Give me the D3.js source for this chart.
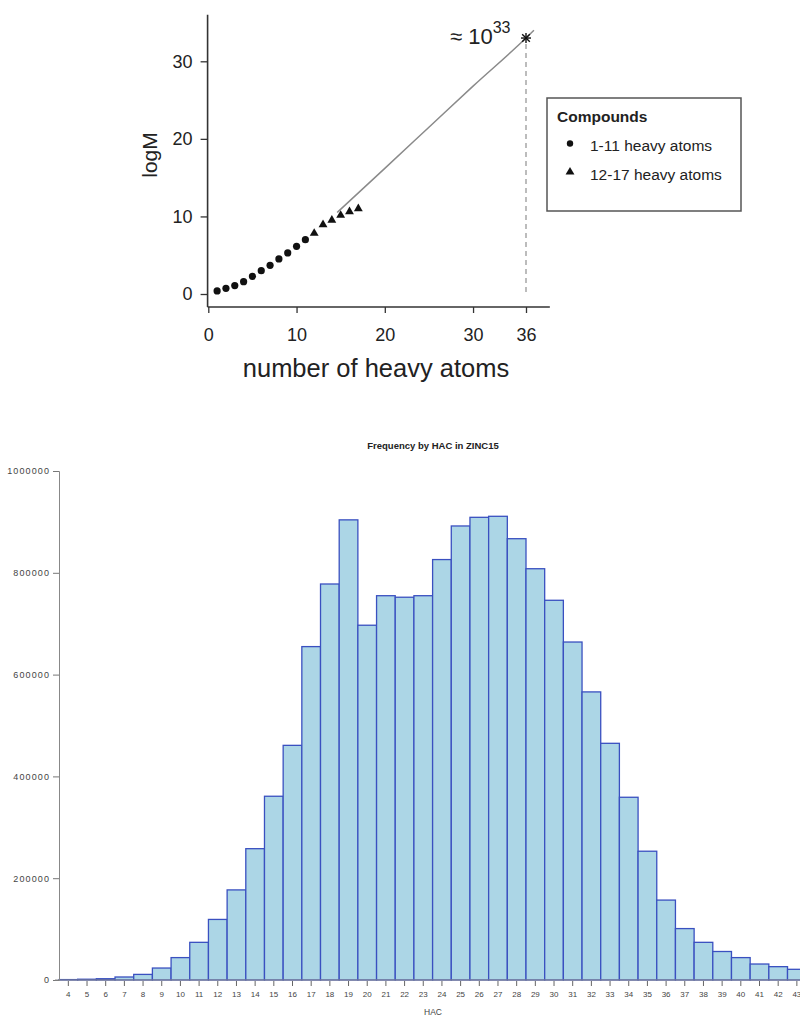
<!DOCTYPE html>
<html><head><meta charset="utf-8">
<script src="https://cdn.jsdelivr.net/npm/d3@7"></script>
<style>
html,body{margin:0;padding:0;background:#fff;}
svg{display:block;font-family:"Liberation Sans",Arial,sans-serif;}
</style></head>
<body>
<svg id="c" width="800" height="1023"></svg>
<script>
// ---------- Top chart data ----------
const atomsCircle = [1,2,3,4,5,6,7,8,9,10,11];
const logMCircle  = [0.39,0.73,1.08,1.59,2.28,3.01,3.70,4.52,5.29,6.15,7.01];
const atomsTri    = [12,13,14,15,16,17];
const logMTri     = [7.83,8.95,9.51,10.15,10.62,11.01];
const fitX        = [14.6,20,25,30,36,36.9];
const fitY        = [10.5,16.2,21.5,26.8,33.0,34.0];
const starPoint   = [36,33];
const topXTicks   = [0,10,20,30,36];
const topYTicks   = [0,10,20,30];
const legendLabels = ["1-11 heavy atoms","12-17 heavy atoms"];

// ---------- Bottom chart data ----------
const hac = [4,5,6,7,8,9,10,11,12,13,14,15,16,17,18,19,20,21,22,23,24,25,26,27,28,29,30,31,32,33,34,35,36,37,38,39,40,41,42,43];
const freq = [800,1500,2500,5900,11000,23500,44000,74000,119000,177000,258000,361000,461000,655000,778000,904000,697000,755000,752000,755000,826000,892000,909000,911000,867000,808000,746000,664000,566000,465000,359000,253000,157000,101000,74000,56000,44000,31400,26200,21000];
const bottomYTicks = [0,200000,400000,600000,800000,1000000];

const svg = d3.select("#c");

// ================= TOP CHART =================
const xT = d3.scaleLinear().domain([0,36]).range([208.3,526]);
const yT = d3.scaleLinear().domain([0,30]).range([294,61.3]);
const gTop = svg.append("g");
const axCol = "#333";

gTop.append("line").attr("x1",xT(-0.08)).attr("x2",xT(38.7)).attr("y1",307).attr("y2",307)
  .attr("stroke",axCol).attr("stroke-width",1.6);
gTop.append("line").attr("x1",xT(-0.08)).attr("x2",xT(-0.08)).attr("y1",yT(36)).attr("y2",307)
  .attr("stroke",axCol).attr("stroke-width",1.6);

const xAxT = gTop.append("g").attr("transform","translate(0,307)")
  .call(d3.axisBottom(xT).tickValues(topXTicks).tickSize(6).tickPadding(15));
xAxT.select(".domain").remove();
xAxT.selectAll("line").attr("stroke",axCol).attr("stroke-width",1.3);
xAxT.selectAll("text").attr("font-size",18).attr("fill","#222").attr("font-family","Liberation Sans, Arial, sans-serif");

const yAxT = gTop.append("g").attr("transform",`translate(${xT(-0.08)},0)`)
  .call(d3.axisLeft(yT).tickValues(topYTicks).tickSize(7).tickPadding(8));
yAxT.select(".domain").remove();
yAxT.selectAll("line").attr("stroke",axCol).attr("stroke-width",1.3);
yAxT.selectAll("text").attr("font-size",18).attr("fill","#222").attr("font-family","Liberation Sans, Arial, sans-serif");

gTop.append("text").attr("x",376).attr("y",377).attr("text-anchor","middle")
  .attr("font-size",25.5).attr("fill","#222").text("number of heavy atoms");
gTop.append("text").attr("transform","translate(157,155) rotate(-90)").attr("text-anchor","middle")
  .attr("font-size",21).attr("fill","#222").text("logM");

const lineGen = d3.line().x(d=>xT(d[0])).y(d=>yT(d[1])).curve(d3.curveMonotoneX);
gTop.append("path").datum(fitX.map((x,i)=>[x,fitY[i]])).attr("d",lineGen)
  .attr("fill","none").attr("stroke","#8a8a8a").attr("stroke-width",1.5);

gTop.append("line").attr("x1",xT(starPoint[0])).attr("x2",xT(starPoint[0]))
  .attr("y1",yT(starPoint[1])+6).attr("y2",yT(0))
  .attr("stroke","#999").attr("stroke-width",1.3).attr("stroke-dasharray","5,4");

gTop.selectAll("circle.pt").data(atomsCircle).enter().append("circle")
  .attr("cx",d=>xT(d)).attr("cy",(d,i)=>yT(logMCircle[i])).attr("r",3.6).attr("fill","#111");
const tri = d3.symbol().type(d3.symbolTriangle).size(34);
gTop.selectAll("path.tri").data(atomsTri).enter().append("path")
  .attr("d",tri).attr("transform",(d,i)=>`translate(${xT(d)},${yT(logMTri[i])})`).attr("fill","#111");

const sx = xT(starPoint[0]), sy = yT(starPoint[1]);
const sg = gTop.append("g").attr("transform",`translate(${sx},${sy})`).attr("stroke","#111").attr("stroke-width",1.4);
sg.append("line").attr("x1",-5).attr("x2",5).attr("y1",0).attr("y2",0);
sg.append("line").attr("x1",0).attr("x2",0).attr("y1",-5).attr("y2",5);
sg.append("line").attr("x1",-3.8).attr("x2",3.8).attr("y1",-3.8).attr("y2",3.8);
sg.append("line").attr("x1",-3.8).attr("x2",3.8).attr("y1",3.8).attr("y2",-3.8);

const ann = gTop.append("text").attr("x",450).attr("y",43.5).attr("fill","#222").attr("font-size",22);
ann.append("tspan").text("≈ 10");
ann.append("tspan").attr("font-size",16).attr("dy",-10.5).text("33");

const lg = gTop.append("g");
lg.append("rect").attr("x",547).attr("y",98).attr("width",194).attr("height",113)
  .attr("fill","#fff").attr("stroke","#555").attr("stroke-width",1.5);
lg.append("text").attr("x",557).attr("y",122).attr("font-size",15.5).attr("font-weight","bold")
  .attr("fill","#222").text("Compounds");
lg.append("circle").attr("cx",570).attr("cy",143.5).attr("r",3.2).attr("fill","#111");
lg.append("path").attr("d",tri).attr("transform","translate(570,172)").attr("fill","#111");
lg.selectAll("text.lab").data(legendLabels).enter().append("text")
  .attr("x",590).attr("y",(d,i)=>151+i*28.5).attr("font-size",15.5).attr("fill","#222").text(d=>d);

// ================= BOTTOM CHART =================
const xB = d3.scaleBand().domain(hac).range([59,59+40*18.68]).paddingInner(0).paddingOuter(0);
const yB = d3.scaleLinear().domain([0,1000000]).range([980,471]);
const bot = svg.append("g");

bot.append("text").attr("x",433).attr("y",449).attr("text-anchor","middle")
  .attr("font-size",9.5).attr("font-weight","bold").attr("fill","#222").text("Frequency by HAC in ZINC15");

bot.selectAll("rect.bar").data(hac).enter().append("rect")
  .attr("x",d=>xB(d)).attr("width",xB.bandwidth())
  .attr("y",(d,i)=>yB(freq[i])).attr("height",(d,i)=>980-yB(freq[i]))
  .attr("fill","#acd6e6").attr("stroke","#3a50c0").attr("stroke-width",1.3);

const yAxB = bot.append("g").attr("transform","translate(59,0)")
  .call(d3.axisLeft(yB).tickValues(bottomYTicks).tickFormat(d3.format("d")).tickSize(6).tickPadding(3));
yAxB.select(".domain").attr("stroke","#888");
yAxB.selectAll("line").attr("stroke","#777");
yAxB.selectAll("text").attr("font-size",9).attr("fill","#444").attr("letter-spacing",1.1)
  .attr("font-family","Liberation Sans, Arial, sans-serif");

bot.append("line").attr("x1",55).attr("x2",800).attr("y1",980).attr("y2",980).attr("stroke","#888").attr("stroke-width",1);
const xAxB = bot.append("g").attr("transform","translate(0,981)")
  .call(d3.axisBottom(xB).tickSize(5).tickPadding(5));
xAxB.select(".domain").remove();
xAxB.selectAll("line").attr("stroke","#666");
xAxB.selectAll("text").attr("font-size",8).attr("fill","#444").attr("font-family","Liberation Sans, Arial, sans-serif");

bot.append("text").attr("x",433).attr("y",1015).attr("text-anchor","middle")
  .attr("font-size",8.5).attr("fill","#444").text("HAC");
</script>
</body></html>
